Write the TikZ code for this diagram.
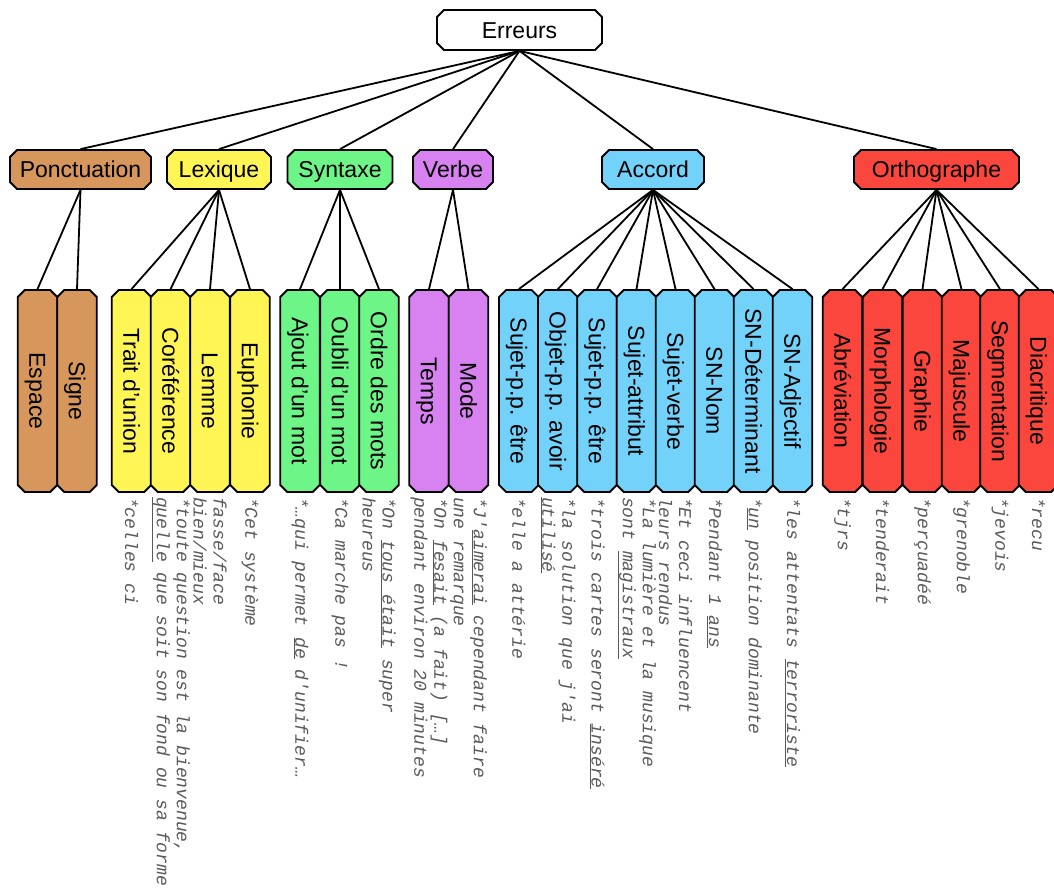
\documentclass[tikz,border=0pt]{standalone}
\usepackage{fontspec}
\setmainfont{Liberation Sans}
\newfontfamily\exfont{Liberation Mono}
\usetikzlibrary{shapes.misc}
\definecolor{cPonct}{RGB}{214,150,92}
\definecolor{cLex}{RGB}{255,245,85}
\definecolor{cSyn}{RGB}{110,245,135}
\definecolor{cVerb}{RGB}{215,130,240}
\definecolor{cAcc}{RGB}{115,210,250}
\definecolor{cOrth}{RGB}{250,70,60}
\definecolor{exgray}{RGB}{90,90,90}
\begin{document}
\begin{tikzpicture}[x=1pt,y=-1pt,
  box/.style={chamfered rectangle, chamfered rectangle xsep=3.5pt, chamfered rectangle ysep=3.5pt, draw=black, line width=1.8pt, inner sep=0pt, font=\fontsize{23}{27}\selectfont, text height=16.5pt, text depth=0pt, minimum height=39pt},
  leaf/.style={box, rotate=-90, minimum width=202pt, minimum height=39.5pt},
  ex/.style={rotate=-90, anchor=west, align=left, inner sep=0pt, text=exgray, font=\exfont\itshape\fontsize{18}{20}\selectfont},
  link/.style={line width=1.8pt, black}
]
\useasboundingbox (0,0) rectangle (1054,891);
% root and categories
\node[box, fill=white, minimum width=165pt, minimum height=40pt] (root) at (519.5,30) {Erreurs};
\node[box, fill=cPonct, minimum width=141pt] (ponct) at (80.5,169.5) {Ponctuation};
\node[box, fill=cLex, minimum width=104pt] (lex) at (219,169.5) {Lexique};
\node[box, fill=cSyn, minimum width=105pt] (syn) at (340,169.5) {Syntaxe};
\node[box, fill=cVerb, minimum width=80pt] (verb) at (453,169.5) {Verbe};
\node[box, fill=cAcc, minimum width=102pt] (acc) at (653,169.5) {Accord};
\node[box, fill=cOrth, minimum width=165pt] (orth) at (936.5,169.5) {Orthographe};
% leaves
\node[leaf, fill=cPonct] (espace) at (37.5,391) {Espace};
\node[leaf, fill=cPonct] (signe) at (77,391) {Signe};
\node[leaf, fill=cLex] (trait) at (131.5,391) {Trait d'union};
\node[leaf, fill=cLex] (coref) at (170.5,391) {Coréférence};
\node[leaf, fill=cLex] (lemme) at (210,391) {Lemme};
\node[leaf, fill=cLex] (euph) at (250,391) {Euphonie};
\node[leaf, fill=cSyn] (ajout) at (300,391) {Ajout d'un mot};
\node[leaf, fill=cSyn] (oubli) at (340,391) {Oubli d'un mot};
\node[leaf, fill=cSyn] (ordre) at (379,391) {Ordre des mots};
\node[leaf, fill=cVerb] (temps) at (429,391) {Temps};
\node[leaf, fill=cVerb] (mode) at (468.5,391) {Mode};
\node[leaf, fill=cAcc] (ppetre) at (518.8,391) {Sujet-p.p. être};
\node[leaf, fill=cAcc] (ppavoir) at (557.8,391) {Objet-p.p. avoir};
\node[leaf, fill=cAcc] (ppetreb) at (597,391) {Sujet-p.p. être};
\node[leaf, fill=cAcc] (attr) at (636.5,391) {Sujet-attribut};
\node[leaf, fill=cAcc] (sv) at (675.5,391) {Sujet-verbe};
\node[leaf, fill=cAcc] (snnom) at (714.5,391) {SN-Nom};
\node[leaf, fill=cAcc] (sndet) at (753.5,391) {SN-Déterminant};
\node[leaf, fill=cAcc] (snadj) at (792.5,391) {SN-Adjectif};
\node[leaf, fill=cOrth] (abrev) at (842.5,391) {Abréviation};
\node[leaf, fill=cOrth] (morph) at (882.5,391) {Morphologie};
\node[leaf, fill=cOrth] (graph) at (922.5,391) {Graphie};
\node[leaf, fill=cOrth] (maj) at (961.5,391) {Majuscule};
\node[leaf, fill=cOrth] (segm) at (1000,391) {Segmentation};
\node[leaf, fill=cOrth] (diac) at (1038.5,391) {Diacritique};
% connectors
\foreach \c in {ponct,lex,syn,verb,acc,orth} \draw[link] (root.south) -- (\c.north);
\foreach \l in {espace,signe} \draw[link] (ponct.south) -- (\l.west);
\foreach \l in {trait,coref,lemme,euph} \draw[link] (lex.south) -- (\l.west);
\foreach \l in {ajout,oubli,ordre} \draw[link] (syn.south) -- (\l.west);
\foreach \l in {temps,mode} \draw[link] (verb.south) -- (\l.west);
\foreach \l in {ppetre,ppavoir,ppetreb,attr,sv,snnom,sndet,snadj} \draw[link] (acc.south) -- (\l.west);
\foreach \l in {abrev,morph,graph,maj,segm,diac} \draw[link] (orth.south) -- (\l.west);
% examples
\node[ex] (xtrait) at ([yshift=-4pt]trait.east) {*celles ci};
\node[ex] (xcoref) at ([yshift=-4pt]coref.east) {*toute question est la bienvenue,\\\underline{quelle} que soit son fond ou sa forme};
\node[ex] (xlemme) at ([yshift=-4pt]lemme.east) {fasse/face\\bien/mieux};
\node[ex] (xeuph) at ([yshift=-4pt]euph.east) {*Cet système};
\node[ex] (xajout) at ([yshift=-4pt]ajout.east) {*…qui permet \underline{de} d'unifier…};
\node[ex] (xoubli) at ([yshift=-4pt]oubli.east) {*Ca marche pas !};
\node[ex] (xordre) at ([yshift=-4pt]ordre.east) {*On \underline{tous était} super\\heureus};
\node[ex] (xtemps) at ([yshift=-4pt]temps.east) {*On \underline{fesait} (a fait) […]\\pendant environ 20 minutes};
\node[ex] (xmode) at ([yshift=-4pt]mode.east) {*J'\underline{aimerai} cependant faire\\une remarque};
\node[ex] (xppetre) at ([yshift=-4pt]ppetre.east) {*elle a attérie};
\node[ex] (xppavoir) at ([yshift=-4pt]ppavoir.east) {*la solution que j'ai\\\underline{utilisé}};
\node[ex] (xppetreb) at ([yshift=-4pt]ppetreb.east) {*trois cartes seront \underline{inséré}};
\node[ex] (xattr) at ([yshift=-4pt]attr.east) {*La lumière et la musique\\sont \underline{magistraux}};
\node[ex] (xsv) at ([yshift=-4pt]sv.east) {*Et ceci influencent\\leurs rendus};
\node[ex] (xsnnom) at ([yshift=-4pt]snnom.east) {*Pendant 1 \underline{ans}};
\node[ex] (xsndet) at ([yshift=-4pt]sndet.east) {*\underline{un} position dominante};
\node[ex] (xsnadj) at ([yshift=-4pt]snadj.east) {*les attentats \underline{terroriste}};
\node[ex] (xabrev) at ([yshift=-4pt]abrev.east) {*tjrs};
\node[ex] (xmorph) at ([yshift=-4pt]morph.east) {*tenderait};
\node[ex] (xgraph) at ([yshift=-4pt]graph.east) {*perçuadéé};
\node[ex] (xmaj) at ([yshift=-4pt]maj.east) {*grenoble};
\node[ex] (xsegm) at ([yshift=-4pt]segm.east) {*jevois};
\node[ex] (xdiac) at ([yshift=-4pt]diac.east) {*recu};
\end{tikzpicture}
\end{document}
